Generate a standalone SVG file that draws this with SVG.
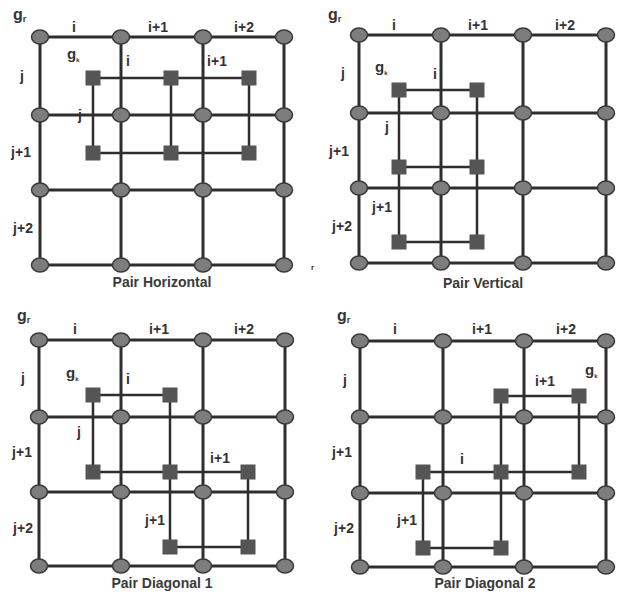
<svg xmlns="http://www.w3.org/2000/svg" width="617" height="597" viewBox="0 0 617 597">
<style>
.bg{fill:#ffffff}
.grid{stroke:#2e2e2e;stroke-width:3;fill:none;stroke-linecap:square}
.link{stroke:#2e2e2e;stroke-width:2.5;fill:none}
.gn{fill:#7d7d7d;stroke:#3a3a3a;stroke-width:1.5}
.sq{fill:#555555}
text{font-family:"Liberation Sans",Arial,sans-serif;font-weight:bold;font-size:14px;fill:#333333}
.m{text-anchor:middle}
.gr{font-size:16px}
.gk{font-size:15px}
.subr{font-size:9px}
.subk{font-size:6px}
.title{font-size:14px;fill:#3a3a3a}
</style>
<defs>
<ellipse id="c" cx="0" cy="0" rx="8.5" ry="7" class="gn"/>
<rect id="s" x="-7.5" y="-7.5" width="15" height="15" class="sq"/>
</defs>
<rect class="bg" x="0" y="0" width="617" height="597"/>
<g id="connectors">
<path class="grid" d="M40 37H284M40 115H284M40 190H284M40 265H284M40 37V265M121 37V265M203 37V265M284 37V265"/>
<path class="grid" d="M359 35H606M359 113H606M359 188H606M359 263H606M359 35V263M441 35V263M523 35V263M606 35V263"/>
<path class="grid" d="M39 340H285M39 417H285M39 492H285M39 566H285M39 340V566M121 340V566M203 340V566M285 340V566"/>
<path class="grid" d="M360 341H606M360 417H606M360 493H606M360 567H606M360 341V567M443 341V567M524 341V567M606 341V567"/>
<path class="link" d="M93 78H249M93 153H249M93 78V153M171 78V153M249 78V153"/>
<path class="link" d="M399 90H477M399 167H477M399 242H477M399 90V242M477 90V242"/>
<path class="link" d="M93 395H170M93 472H248M170 547H248M93 395V472M170 395V547M248 472V547"/>
<path class="link" d="M501 396H579M423 472H579M423 548H501M501 396V548M579 396V472M423 472V548"/>
</g>
<g id="panel1-grid-nodes">
<g id="p1-n00"><use href="#c" x="40" y="37"/></g><g id="p1-n10"><use href="#c" x="121" y="37"/></g><g id="p1-n20"><use href="#c" x="203" y="37"/></g><g id="p1-n30"><use href="#c" x="284" y="37"/></g>
<g id="p1-n01"><use href="#c" x="40" y="115"/></g><g id="p1-n11"><use href="#c" x="121" y="115"/></g><g id="p1-n21"><use href="#c" x="203" y="115"/></g><g id="p1-n31"><use href="#c" x="284" y="115"/></g>
<g id="p1-n02"><use href="#c" x="40" y="190"/></g><g id="p1-n12"><use href="#c" x="121" y="190"/></g><g id="p1-n22"><use href="#c" x="203" y="190"/></g><g id="p1-n32"><use href="#c" x="284" y="190"/></g>
<g id="p1-n03"><use href="#c" x="40" y="265"/></g><g id="p1-n13"><use href="#c" x="121" y="265"/></g><g id="p1-n23"><use href="#c" x="203" y="265"/></g><g id="p1-n33"><use href="#c" x="284" y="265"/></g>
</g>
<g id="panel2-grid-nodes">
<g id="p2-n00"><use href="#c" x="359" y="35"/></g><g id="p2-n10"><use href="#c" x="441" y="35"/></g><g id="p2-n20"><use href="#c" x="523" y="35"/></g><g id="p2-n30"><use href="#c" x="606" y="35"/></g>
<g id="p2-n01"><use href="#c" x="359" y="113"/></g><g id="p2-n11"><use href="#c" x="441" y="113"/></g><g id="p2-n21"><use href="#c" x="523" y="113"/></g><g id="p2-n31"><use href="#c" x="606" y="113"/></g>
<g id="p2-n02"><use href="#c" x="359" y="188"/></g><g id="p2-n12"><use href="#c" x="441" y="188"/></g><g id="p2-n22"><use href="#c" x="523" y="188"/></g><g id="p2-n32"><use href="#c" x="606" y="188"/></g>
<g id="p2-n03"><use href="#c" x="359" y="263"/></g><g id="p2-n13"><use href="#c" x="441" y="263"/></g><g id="p2-n23"><use href="#c" x="523" y="263"/></g><g id="p2-n33"><use href="#c" x="606" y="263"/></g>
</g>
<g id="panel3-grid-nodes">
<g id="p3-n00"><use href="#c" x="39" y="340"/></g><g id="p3-n10"><use href="#c" x="121" y="340"/></g><g id="p3-n20"><use href="#c" x="203" y="340"/></g><g id="p3-n30"><use href="#c" x="285" y="340"/></g>
<g id="p3-n01"><use href="#c" x="39" y="417"/></g><g id="p3-n11"><use href="#c" x="121" y="417"/></g><g id="p3-n21"><use href="#c" x="203" y="417"/></g><g id="p3-n31"><use href="#c" x="285" y="417"/></g>
<g id="p3-n02"><use href="#c" x="39" y="492"/></g><g id="p3-n12"><use href="#c" x="121" y="492"/></g><g id="p3-n22"><use href="#c" x="203" y="492"/></g><g id="p3-n32"><use href="#c" x="285" y="492"/></g>
<g id="p3-n03"><use href="#c" x="39" y="566"/></g><g id="p3-n13"><use href="#c" x="121" y="566"/></g><g id="p3-n23"><use href="#c" x="203" y="566"/></g><g id="p3-n33"><use href="#c" x="285" y="566"/></g>
</g>
<g id="panel4-grid-nodes">
<g id="p4-n00"><use href="#c" x="360" y="341"/></g><g id="p4-n10"><use href="#c" x="443" y="341"/></g><g id="p4-n20"><use href="#c" x="524" y="341"/></g><g id="p4-n30"><use href="#c" x="606" y="341"/></g>
<g id="p4-n01"><use href="#c" x="360" y="417"/></g><g id="p4-n11"><use href="#c" x="443" y="417"/></g><g id="p4-n21"><use href="#c" x="524" y="417"/></g><g id="p4-n31"><use href="#c" x="606" y="417"/></g>
<g id="p4-n02"><use href="#c" x="360" y="493"/></g><g id="p4-n12"><use href="#c" x="443" y="493"/></g><g id="p4-n22"><use href="#c" x="524" y="493"/></g><g id="p4-n32"><use href="#c" x="606" y="493"/></g>
<g id="p4-n03"><use href="#c" x="360" y="567"/></g><g id="p4-n13"><use href="#c" x="443" y="567"/></g><g id="p4-n23"><use href="#c" x="524" y="567"/></g><g id="p4-n33"><use href="#c" x="606" y="567"/></g>
</g>
<g id="panel1-squares">
<g id="p1-s1"><use href="#s" x="93" y="78"/></g><g id="p1-s2"><use href="#s" x="171" y="78"/></g><g id="p1-s3"><use href="#s" x="249" y="78"/></g>
<g id="p1-s4"><use href="#s" x="93" y="153"/></g><g id="p1-s5"><use href="#s" x="171" y="153"/></g><g id="p1-s6"><use href="#s" x="249" y="153"/></g>
</g>
<g id="panel2-squares">
<g id="p2-s1"><use href="#s" x="399" y="90"/></g><g id="p2-s2"><use href="#s" x="477" y="90"/></g>
<g id="p2-s3"><use href="#s" x="399" y="167"/></g><g id="p2-s4"><use href="#s" x="477" y="167"/></g>
<g id="p2-s5"><use href="#s" x="399" y="242"/></g><g id="p2-s6"><use href="#s" x="477" y="242"/></g>
</g>
<g id="panel3-squares">
<g id="p3-s1"><use href="#s" x="93" y="395"/></g><g id="p3-s2"><use href="#s" x="170" y="395"/></g>
<g id="p3-s3"><use href="#s" x="93" y="472"/></g><g id="p3-s4"><use href="#s" x="170" y="472"/></g><g id="p3-s5"><use href="#s" x="248" y="472"/></g>
<g id="p3-s6"><use href="#s" x="170" y="547"/></g><g id="p3-s7"><use href="#s" x="248" y="547"/></g>
</g>
<g id="panel4-squares">
<g id="p4-s1"><use href="#s" x="501" y="396"/></g><g id="p4-s2"><use href="#s" x="579" y="396"/></g>
<g id="p4-s3"><use href="#s" x="423" y="472"/></g><g id="p4-s4"><use href="#s" x="501" y="472"/></g><g id="p4-s5"><use href="#s" x="579" y="472"/></g>
<g id="p4-s6"><use href="#s" x="423" y="548"/></g><g id="p4-s7"><use href="#s" x="501" y="548"/></g>
</g>
<g id="labels">
<text class="gr" x="13" y="20">g<tspan class="subr" dy="2">r</tspan></text>
<text class="m" x="74" y="32">i</text>
<text class="m" x="158" y="32">i+1</text>
<text class="m" x="244" y="32">i+2</text>
<text class="m" x="22" y="81">j</text>
<text class="gk" x="67" y="59">g<tspan class="subk" dy="3">k</tspan></text>
<text class="m" x="128" y="66">i</text>
<text class="m" x="217" y="66">i+1</text>
<text class="m" x="80" y="120">j</text>
<text class="m" x="21" y="157">j+1</text>
<text class="m" x="23" y="233">j+2</text>
<text class="m title" x="162" y="287">Pair Horizontal</text>
<text x="311" y="270" style="font-size:8px">r</text>
<text class="gr" x="328" y="20">g<tspan class="subr" dy="2">r</tspan></text>
<text class="m" x="394" y="30">i</text>
<text class="m" x="478" y="30">i+1</text>
<text class="m" x="565" y="30">i+2</text>
<text class="m" x="343" y="78">j</text>
<text class="gk" x="375" y="72">g<tspan class="subk" dy="3">k</tspan></text>
<text class="m" x="435" y="79">i</text>
<text class="m" x="387" y="132">j</text>
<text class="m" x="339" y="156">j+1</text>
<text class="m" x="382" y="212">j+1</text>
<text class="m" x="342" y="231">j+2</text>
<text class="m title" x="483" y="288">Pair Vertical</text>
<text class="gr" x="17" y="321">g<tspan class="subr" dy="2">r</tspan></text>
<text class="m" x="75" y="334">i</text>
<text class="m" x="159" y="334">i+1</text>
<text class="m" x="244" y="334">i+2</text>
<text class="m" x="23" y="383">j</text>
<text class="gk" x="66" y="378">g<tspan class="subk" dy="3">k</tspan></text>
<text class="m" x="128" y="384">i</text>
<text class="m" x="79" y="437">j</text>
<text class="m" x="22" y="457">j+1</text>
<text class="m" x="220" y="463">i+1</text>
<text class="m" x="23" y="533">j+2</text>
<text class="m" x="155" y="525">j+1</text>
<text class="m title" x="162" y="588">Pair Diagonal 1</text>
<text class="gr" x="337" y="321">g<tspan class="subr" dy="2">r</tspan></text>
<text class="m" x="395" y="334">i</text>
<text class="m" x="482" y="334">i+1</text>
<text class="m" x="566" y="334">i+2</text>
<text class="m" x="345" y="385">j</text>
<text class="m" x="545" y="386">i+1</text>
<text class="gk" x="585" y="375">g<tspan class="subk" dy="3">k</tspan></text>
<text class="m" x="462" y="464">i</text>
<text class="m" x="342" y="457">j+1</text>
<text class="m" x="344" y="533">j+2</text>
<text class="m" x="407" y="525">j+1</text>
<text class="m title" x="485" y="588">Pair Diagonal 2</text>
</g>
</svg>
